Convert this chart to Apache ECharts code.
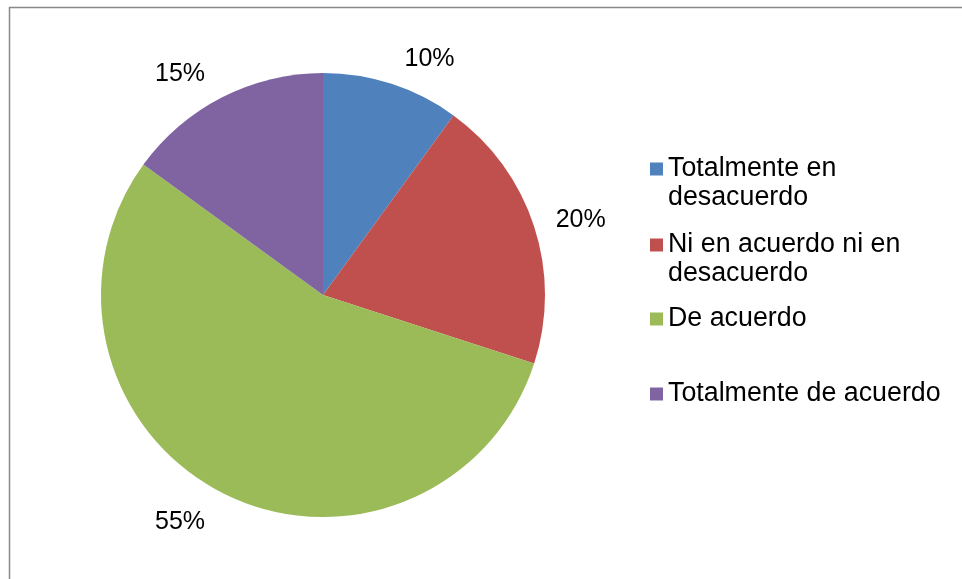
<!DOCTYPE html>
<html>
<head>
<meta charset="utf-8">
<script src="https://cdn.jsdelivr.net/npm/echarts@6/dist/echarts.min.js"></script>
<style>
  html, body { margin: 0; padding: 0; background: #ffffff; }
  #chart { width: 962px; height: 579px; }
</style>
</head>
<body>
<div id="chart"></div>
<script>
// Survey answers and their shares (percent)
const categories = [
  'Totalmente en desacuerdo',
  'Ni en acuerdo ni en desacuerdo',
  'De acuerdo',
  'Totalmente de acuerdo'
];
const values = [10, 20, 55, 15];
// Legend text, wrapped the way it is shown beside the pie
const legendLines = [
  ['Totalmente en', 'desacuerdo'],
  ['Ni en acuerdo ni en', 'desacuerdo'],
  ['De acuerdo'],
  ['Totalmente de acuerdo']
];
const colors = ['#4F81BD', '#C0504D', '#9BBB59', '#8064A2'];

const FONT = "'Liberation Sans', Arial, sans-serif";
const LEGEND_LINE = 29;
const chart = echarts.init(document.getElementById('chart'), null, { renderer: 'canvas' });

// Legend text is centred on its swatch; for wrapped entries a blank
// leading line keeps the swatch level with the first line of text.
function legendText(lines) {
  return lines.length > 1 ? '\n' + lines.join('\n') : lines[0];
}

// one legend block per answer so each sits at its own slot
const swatchCenters = [169, 245, 319, 394];
const legends = categories.map((name, i) => {
  const nLines = legendLines[i].length > 1 ? legendLines[i].length + 1 : 1;
  return {
    data: [name],
    left: 650,
    top: swatchCenters[i] - nLines * LEGEND_LINE / 2,
    orient: 'vertical',
    padding: 0,
    itemWidth: 13,
    itemHeight: 13,
    icon: 'rect',
    selectedMode: false,
    formatter: () => legendText(legendLines[i]),
    textStyle: {
      fontFamily: FONT,
      fontSize: 26.8,
      lineHeight: LEGEND_LINE,
      color: '#000000'
    }
  };
});

chart.setOption({
  animation: false,
  backgroundColor: '#ffffff',
  color: colors,
  legend: legends,
  graphic: [{
    type: 'rect',
    shape: { x: 9.5, y: 7.5, width: 1000, height: 1000 },
    style: { fill: 'none', stroke: '#898989', lineWidth: 1.5 },
    silent: true,
    z: -1
  }],
  series: [{
    type: 'pie',
    center: [323, 295],
    radius: [0, 222],
    startAngle: 90,
    clockwise: true,
    avoidLabelOverlap: false,
    itemStyle: { borderWidth: 0 },
    label: {
      show: true,
      position: 'outside',
      formatter: '{c}%',
      fontFamily: FONT,
      fontSize: 25,
      color: '#000000',
      distanceToLabelLine: 4
    },
    labelLine: { show: false, length: 29, length2: 0 },
    labelLayout: { dy: 3 },
    emphasis: { scale: false },
    data: categories.map((name, i) => {
      const item = { name: name, value: values[i] };
      if (i === 1) item.label = { distanceToLabelLine: -6 };
      return item;
    })
  }]
});
</script>
</body>
</html>
